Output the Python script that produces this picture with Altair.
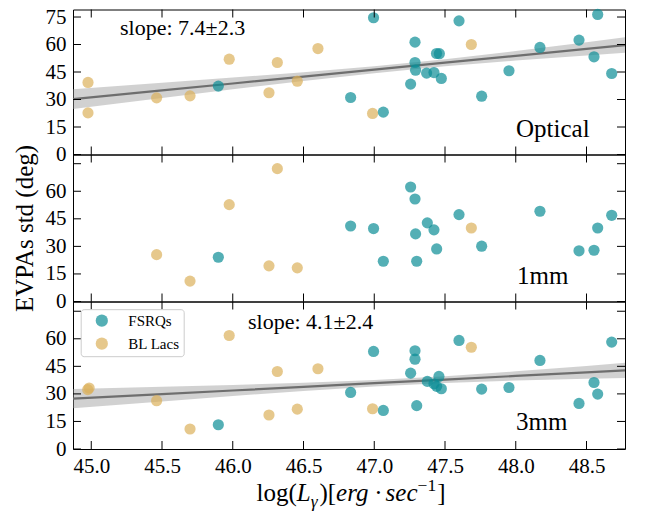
import altair as alt
import pandas as pd

# ---------------- data ----------------
# Optical
opt_fsrq_x = [45.898, 46.833, 46.995, 47.064, 47.257, 47.288, 47.288, 47.292, 47.370, 47.422,
              47.440, 47.460, 47.474, 47.599, 47.759, 47.952, 48.171, 48.447, 48.553, 48.579, 48.678]
opt_fsrq_y = [37.3, 31.1, 74.6, 23.1, 38.4, 61.3, 50.2, 46.0, 44.4, 44.7,
              55.1, 55.0, 41.5, 72.9, 31.8, 45.7, 58.4, 62.4, 53.3, 76.4, 44.2]
opt_bll_x = [44.977, 44.977, 45.462, 45.698, 45.975, 46.256, 46.315, 46.456, 46.602, 46.988, 47.686]
opt_bll_y = [39.3, 22.7, 30.9, 32.0, 52.0, 33.7, 50.2, 40.0, 57.8, 22.4, 60.0]

# 1mm
mm1_fsrq_x = [45.898, 46.833, 46.995, 47.064, 47.257, 47.288, 47.292, 47.300, 47.375, 47.422,
              47.441, 47.599, 47.759, 48.171, 48.447, 48.553, 48.579, 48.678]
mm1_fsrq_y = [24.1, 41.1, 39.7, 21.9, 62.3, 55.8, 36.8, 21.9, 42.8, 39.0,
              28.6, 47.3, 30.1, 49.1, 27.6, 27.9, 40.0, 46.9]
mm1_bll_x = [45.462, 45.698, 45.975, 46.256, 46.315, 46.456, 47.686]
mm1_bll_y = [25.5, 11.1, 52.7, 19.4, 72.3, 18.3, 40.0]

# 3mm
mm3_fsrq_x = [45.898, 46.833, 46.995, 47.064, 47.257, 47.288, 47.288, 47.300, 47.375, 47.422,
              47.441, 47.457, 47.474, 47.599, 47.759, 47.952, 48.171, 48.447, 48.553, 48.579, 48.678]
mm3_fsrq_y = [13.2, 30.8, 53.1, 21.0, 41.3, 53.5, 48.9, 23.6, 36.8, 35.5,
              34.1, 39.5, 32.8, 59.1, 32.6, 33.5, 48.2, 24.8, 36.2, 29.9, 58.2]
mm3_bll_x = [44.975, 44.985, 45.462, 45.698, 45.975, 46.256, 46.315, 46.456, 46.602, 46.988, 47.686]
mm3_bll_y = [32.3, 33.2, 26.3, 10.9, 61.8, 18.5, 42.2, 21.7, 43.7, 21.9, 55.4]

# regression fits and confidence bands
fit_x = [44.871, 45.5, 46.0, 46.5, 47.0, 47.5, 48.0, 48.5, 48.772]
opt_fit = [30.2, 34.96, 38.74, 42.52, 46.29, 50.07, 53.85, 57.63, 59.7]
opt_lo = [24.8, 30.76, 35.54, 40.12, 44.39, 48.17, 51.25, 54.03, 55.5]
opt_hi = [35.6, 39.16, 41.94, 44.92, 48.19, 51.97, 56.45, 61.23, 63.9]
mm3_fit = [27.4, 29.88, 31.86, 33.83, 35.81, 37.78, 39.76, 41.73, 42.8]
mm3_lo = [22.2, 25.88, 28.86, 31.63, 34.01, 35.98, 37.26, 38.23, 38.7]
mm3_hi = [32.6, 33.88, 34.86, 36.03, 37.61, 39.58, 42.26, 45.23, 46.9]

classes = ["FSRQs", "BL Lacs"]
x_ticks = [45.0, 45.5, 46.0, 46.5, 47.0, 47.5, 48.0, 48.5]
y_ticks = [0, 15, 30, 45, 60, 75]
opt_slope_text = "slope: 7.4±2.3"
mm3_slope_text = "slope: 4.1±2.4"
y_title = "EVPAs std (deg)"
# x-axis title pieces: (text, italic?, script: 0 normal, -1 subscript, 1 superscript)
x_title_pieces = [("log(", False, 0), ("L", True, 0), ("γ", True, -1), (")[", False, 0),
                  ("erg", True, 0), ("·", False, 0), ("sec", True, 0), ("−1", False, 1),
                  ("]", False, 0)]

# ---------------- styling ----------------
TEAL = "#0c8d95"
TAN = "#dbb05b"
FONT = "Liberation Serif"
W = 552
TICK = 8
X_DOMAIN = [44.871, 48.772]
TITLE_FS = 25
SCRIPT_FS = 17.5
DOT_GAP = 5
# approximate advance widths (em) of the Times-metric font, for placing title pieces
EM = {"l": .278, "o": .5, "g": .5, "(": .333, ")": .333, "[": .333, "]": .333, "L": .556,
      "γ": .44, "e": .444, "r": .389, "s": .389, "c": .444, "·": .25, "−": .564, "1": .5}


def points_df(fx, fy, bx, by):
    return pd.DataFrame({
        "x": fx + bx,
        "y": fy + by,
        "cls": [classes[0]] * len(fx) + [classes[1]] * len(bx),
    })


def x_title_layers(H, center_x, baseline_y):
    rows = []
    for txt, ital, script in x_title_pieces:
        fs = TITLE_FS if script == 0 else SCRIPT_FS
        w = sum(EM.get(ch, .5) for ch in txt) * fs + (1 if script else 0)
        pad = DOT_GAP if txt == "·" else 0
        rows.append((txt, ital, script, fs, w, pad))
    total = sum(r[4] + 2 * r[5] for r in rows)
    x = center_x - total / 2
    out = []
    for txt, ital, script, fs, w, pad in rows:
        x += pad
        dy = {0: 0, -1: 6, 1: -10}[script]
        out.append(alt.Chart(pd.DataFrame({"t": [txt]})).mark_text(
            font=FONT, fontSize=fs, fontStyle="italic" if ital else "normal",
            align="left", baseline="alphabetic", color="black")
            .encode(text="t:N", x=alt.value(x), y=alt.value(baseline_y + dy)))
        x += w + pad
    return out


def panel(df, H, ytop, label, label_xy, slope=None, slope_xy=None, fit=None,
          show_x=False, show_ytitle=False, hide75=False, legend=False):
    xs = alt.Scale(domain=X_DOMAIN, nice=False, zero=False)
    ys = alt.Scale(domain=[0, ytop], nice=False, zero=False)
    if show_x:
        xaxis = alt.Axis(values=x_ticks, format=".1f", ticks=False, domain=False, grid=False,
                         labelFont=FONT, labelFontSize=21, labelColor="black", labelPadding=6,
                         labelFlush=False, title=None)
    else:
        xaxis = None
    ykw = dict(values=y_ticks, ticks=False, domain=False, grid=False, labelFont=FONT,
               labelFontSize=21, labelColor="black", labelPadding=7)
    if hide75:
        ykw["labelExpr"] = "datum.value == 75 ? '' : datum.label"
    if show_ytitle:
        ykw.update(title=y_title, titleFont=FONT, titleFontSize=25,
                   titleFontWeight="normal", titleColor="black", titlePadding=8)
    else:
        ykw["title"] = None
    yaxis = alt.Axis(**ykw)

    def X(f):
        return alt.X(f, type="quantitative", scale=xs, axis=xaxis)

    def Y(f):
        return alt.Y(f, type="quantitative", scale=ys, axis=yaxis)

    layers = []
    if fit is not None:
        fdf = pd.DataFrame({"x": fit_x, "c": fit[0], "lo": fit[1], "hi": fit[2]})
        layers.append(alt.Chart(fdf).mark_area(color="#9a9a9a", opacity=0.45)
                      .encode(x=X("x"), y=Y("lo"), y2="hi"))
        layers.append(alt.Chart(fdf).mark_line(color="#6e6e6e", strokeWidth=2.2)
                      .encode(x=X("x"), y=Y("c")))
    if legend:
        leg = alt.Legend(orient="none", legendX=7.7, legendY=7.7, title=None, labelFont=FONT,
                         labelFontSize=15, labelColor="black", symbolType="circle",
                         symbolSize=150, symbolOpacity=0.7, symbolStrokeWidth=0,
                         padding=4, rowPadding=7, symbolOffset=9.6, labelOffset=19,
                         strokeColor="#cccccc", fillColor="white", cornerRadius=3)
    else:
        leg = None
    layers.append(alt.Chart(df).mark_circle(size=125, opacity=0.7).encode(
        x=X("x"), y=Y("y"),
        color=alt.Color("cls:N", scale=alt.Scale(domain=classes, range=[TEAL, TAN]), legend=leg),
    ))
    xt = pd.DataFrame({"x": x_ticks})
    yt = pd.DataFrame({"y": y_ticks})
    layers.append(alt.Chart(xt).mark_rule(color="black", strokeWidth=1)
                  .encode(x=X("x"), y=alt.value(H), y2=alt.value(H - TICK)))
    layers.append(alt.Chart(xt).mark_rule(color="black", strokeWidth=1)
                  .encode(x=X("x"), y=alt.value(0), y2=alt.value(TICK)))
    layers.append(alt.Chart(yt).mark_rule(color="black", strokeWidth=1)
                  .encode(y=Y("y"), x=alt.value(0), x2=alt.value(TICK)))
    layers.append(alt.Chart(yt).mark_rule(color="black", strokeWidth=1)
                  .encode(y=Y("y"), x=alt.value(W), x2=alt.value(W - TICK)))
    layers.append(alt.Chart(pd.DataFrame({"t": [label]})).mark_text(
        font=FONT, fontSize=25, align="left", baseline="alphabetic", color="black")
        .encode(text="t:N", x=alt.value(label_xy[0]), y=alt.value(label_xy[1])))
    if slope is not None:
        layers.append(alt.Chart(pd.DataFrame({"t": [slope]})).mark_text(
            font=FONT, fontSize=22, align="left", baseline="alphabetic", color="black")
            .encode(text="t:N", x=alt.value(slope_xy[0]), y=alt.value(slope_xy[1])))
    if show_x:
        layers.extend(x_title_layers(H, W / 2 + 2, H + 52))
    return alt.layer(*layers).properties(width=W, height=H)


p1 = panel(points_df(opt_fsrq_x, opt_fsrq_y, opt_bll_x, opt_bll_y), 145, 79.1, "Optical",
           (443, 127), slope=opt_slope_text, slope_xy=(47, 25.6),
           fit=(opt_fit, opt_lo, opt_hi))
p2 = panel(points_df(mm1_fsrq_x, mm1_fsrq_y, mm1_bll_x, mm1_bll_y), 147, 80.0, "1mm",
           (444, 129), show_ytitle=True, hide75=True)
p3 = panel(points_df(mm3_fsrq_x, mm3_fsrq_y, mm3_bll_x, mm3_bll_y), 147.5, 80.3, "3mm",
           (443, 128), slope=mm3_slope_text, slope_xy=(175, 27.3),
           fit=(mm3_fit, mm3_lo, mm3_hi), show_x=True, hide75=True, legend=True)

chart = (alt.vconcat(p1, p2, p3, spacing=0, bounds="flush")
         .resolve_scale(color="independent")
         .configure_view(stroke="black", strokeWidth=1)
         .properties(padding={"left": 3, "top": -2.5, "right": 5, "bottom": 0},
                     background="white"))

chart.save("out.html", embed_options={"renderer": "svg", "actions": False})
